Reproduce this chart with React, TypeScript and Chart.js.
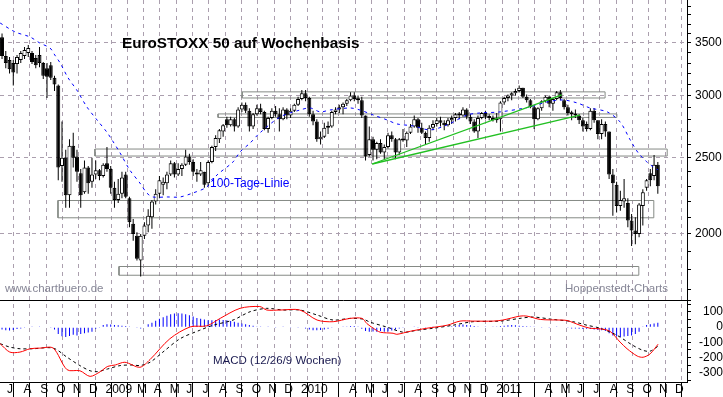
import { useEffect, useRef } from 'react';
import { Chart, registerables } from 'chart.js';

Chart.register(...registerables);

// Weekly candles, first candle = week starting Monday 2008-06-23
const FIRST_MONDAY = Date.UTC(2008, 5, 23);
const DAY_MS = 86400000;

const weekOpen = [
  3560, 3370, 3330, 3300, 3290, 3330, 3370, 3400, 3400, 3350,
  3380, 3300, 3250, 3280, 3160, 3090, 2440, 2500, 2240, 2590,
  2510, 2390, 2260, 2430, 2330, 2380, 2410, 2370, 2460, 2420,
  2290, 2210, 2250, 2380, 2220, 2060, 1990, 1850, 1990, 2050,
  2100, 2200, 2250, 2310, 2320, 2380, 2460, 2380, 2420, 2450,
  2510, 2470, 2390, 2380, 2400, 2320, 2470, 2580, 2640, 2700,
  2800, 2750, 2800, 2740, 2880, 2920, 2870, 2740, 2840, 2890,
  2860, 2720, 2810, 2870, 2840, 2800, 2880, 2830, 2870, 2920,
  2970, 3020, 2980, 2840, 2780, 2640, 2660, 2730, 2740, 2860,
  2880, 2900, 2930, 2960, 3000, 2970, 2960, 2830, 2520, 2640,
  2560, 2610, 2540, 2580, 2670, 2640, 2540, 2640, 2630, 2690,
  2740, 2800, 2730, 2690, 2650, 2730, 2760, 2790, 2770, 2750,
  2790, 2810, 2840, 2830, 2880, 2820, 2780, 2700, 2810, 2850,
  2820, 2810, 2790, 2800, 2940, 2980, 3000, 3020, 3040, 3070,
  2990, 2960, 2900, 2800, 2890, 2950, 2990, 2930, 2970, 3030,
  2960, 2900, 2850, 2840, 2830, 2790, 2760, 2720, 2870, 2790,
  2680, 2760, 2700, 2380, 2310, 2170, 2200, 2190, 2080, 2020,
  2000, 2170, 2290, 2390, 2370, 2450,
];
const weekHigh = [
  3600, 3420, 3360, 3330, 3380, 3420, 3460, 3480, 3420, 3380,
  3460, 3310, 3300, 3310, 3180, 3100, 2780, 2560, 2640, 2690,
  2560, 2420, 2480, 2440, 2500, 2480, 2420, 2460, 2580, 2440,
  2330, 2350, 2400, 2400, 2230, 2090, 2010, 2000, 2070, 2150,
  2210, 2280, 2370, 2360, 2400, 2480, 2470, 2460, 2460, 2560,
  2530, 2490, 2420, 2470, 2400, 2480, 2590, 2670, 2720, 2760,
  2820, 2820, 2810, 2900, 2940, 2940, 2890, 2850, 2920, 2930,
  2870, 2820, 2890, 2910, 2890, 2900, 2890, 2890, 2930, 2990,
  3050, 3050, 2990, 2870, 2800, 2700, 2770, 2780, 2870, 2900,
  2920, 2940, 2970, 3030, 3030, 3000, 2990, 2830, 2740, 2660,
  2620, 2640, 2600, 2690, 2700, 2650, 2650, 2720, 2700, 2760,
  2830, 2810, 2770, 2700, 2750, 2790, 2810, 2820, 2790, 2810,
  2830, 2850, 2860, 2900, 2890, 2840, 2800, 2830, 2860, 2870,
  2840, 2830, 2850, 2950, 2990, 3010, 3030, 3060, 3090, 3070,
  3010, 2970, 2910, 2900, 2960, 3000, 3000, 2980, 3040, 3050,
  2970, 2920, 2870, 2880, 2840, 2810, 2780, 2890, 2890, 2790,
  2800, 2780, 2700, 2420, 2330, 2270, 2350, 2220, 2120, 2100,
  2190, 2280, 2350, 2420, 2520, 2470,
];
const weekLow = [
  3340, 3250, 3200, 3090, 3200, 3300, 3340, 3360, 3290, 3250,
  3260, 3150, 2980, 3140, 3040, 2340, 2330, 2160, 2160, 2430,
  2330, 2160, 2250, 2250, 2290, 2350, 2340, 2360, 2400, 2250,
  2160, 2190, 2220, 2220, 2040, 1960, 1850, 1765, 1970, 2010,
  2030, 2180, 2220, 2240, 2280, 2370, 2360, 2370, 2370, 2440,
  2450, 2370, 2330, 2370, 2290, 2300, 2460, 2550, 2610, 2660,
  2730, 2740, 2700, 2730, 2860, 2850, 2700, 2720, 2830, 2840,
  2710, 2690, 2800, 2820, 2700, 2790, 2800, 2810, 2860, 2910,
  2960, 2950, 2820, 2750, 2620, 2600, 2650, 2680, 2730, 2840,
  2850, 2840, 2910, 2950, 2950, 2930, 2810, 2480, 2510, 2480,
  2490, 2530, 2490, 2570, 2620, 2490, 2520, 2620, 2580, 2680,
  2730, 2690, 2680, 2600, 2620, 2710, 2740, 2740, 2710, 2740,
  2760, 2780, 2800, 2820, 2800, 2760, 2690, 2650, 2800, 2800,
  2790, 2780, 2770, 2700, 2920, 2950, 2960, 3000, 3030, 2980,
  2940, 2890, 2720, 2790, 2870, 2940, 2900, 2870, 2960, 2960,
  2880, 2830, 2790, 2810, 2760, 2700, 2700, 2710, 2770, 2640,
  2640, 2660, 2350, 2110, 2130, 2140, 2160, 2040, 1930, 1940,
  1980, 2050, 2270, 2300, 2340, 2250,
];
const weekClose = [
  3370, 3300, 3240, 3210, 3360, 3400, 3430, 3450, 3310, 3280,
  3300, 3180, 3170, 3160, 3100, 2430, 2500, 2240, 2590, 2500,
  2400, 2240, 2430, 2320, 2380, 2410, 2370, 2450, 2420, 2290,
  2210, 2250, 2360, 2230, 2070, 2000, 1860, 1990, 2050, 2110,
  2200, 2250, 2340, 2330, 2380, 2460, 2380, 2420, 2450, 2510,
  2470, 2400, 2380, 2410, 2310, 2470, 2580, 2650, 2710, 2750,
  2750, 2800, 2740, 2880, 2920, 2870, 2740, 2840, 2890, 2860,
  2720, 2810, 2870, 2840, 2800, 2880, 2830, 2870, 2920, 2970,
  3020, 2980, 2840, 2780, 2640, 2660, 2730, 2740, 2860, 2880,
  2900, 2930, 2960, 3000, 2970, 2960, 2830, 2510, 2640, 2560,
  2610, 2540, 2580, 2670, 2640, 2540, 2640, 2630, 2690, 2740,
  2800, 2730, 2690, 2650, 2730, 2760, 2790, 2770, 2750, 2790,
  2810, 2840, 2830, 2880, 2820, 2780, 2700, 2810, 2850, 2820,
  2810, 2790, 2800, 2940, 2980, 3000, 3020, 3040, 3070, 2990,
  2960, 2900, 2800, 2890, 2950, 2990, 2930, 2970, 3030, 2980,
  2900, 2850, 2840, 2830, 2790, 2740, 2720, 2870, 2790, 2680,
  2760, 2700, 2380, 2320, 2170, 2210, 2220, 2080, 2020, 2000,
  2180, 2260, 2340, 2340, 2450, 2300,
];

// Month axis, July 2008 .. December 2011
const monthLabels = [
  'J', 'A', 'S', 'O', 'N', 'D',
  '2009', '', 'M', 'A', 'M', 'J', 'J', 'A', 'S', 'O', 'N', 'D',
  '2010', '', '', 'A', 'M', 'J', 'J', 'A', 'S', 'O', 'N', 'D',
  '2011', '', '', 'A', 'M', 'J', 'J', 'A', 'S', 'O', 'N', 'D',
];

// 100-Tage-Linie (days after 2008-06-23, index level)
const maDays = [
  -1, 27, 55, 73, 92, 101, 111, 126, 142, 161, 180, 198, 208, 223, 241, 260, 273, 284, 311, 335,
  359, 385, 404, 434, 447, 466, 484, 522, 559, 578, 597, 615, 653, 671, 696, 722, 740, 770, 802, 834,
  871, 895, 933, 989, 1020, 1050, 1077, 1101, 1133, 1157, 1176, 1191, 1207, 1219, 1228,
];
const maLevels = [
  3711, 3615, 3562, 3500, 3449, 3379, 3301, 3159, 3050, 2902, 2793, 2697, 2634, 2536, 2413, 2322, 2255, 2229, 2229, 2229,
  2255, 2295, 2377, 2470, 2543, 2611, 2689, 2818, 2876, 2893, 2860, 2876, 2893, 2876, 2834, 2793, 2761, 2745, 2713, 2753,
  2834, 2851, 2860, 2902, 2944, 2962, 2936, 2893, 2860, 2777, 2634, 2536, 2470, 2434, 2413,
];

// MACD (12/26/9) line and signal line (days after 2008-06-23, value)
const macdDays = [
  -1, 17, 36, 55, 73, 98, 124, 148, 167, 186, 200, 214, 232, 260, 279, 316, 354, 385, 410, 447,
  484, 497, 522, 559, 591, 621, 653, 675, 684, 696, 709, 733, 740, 765, 796, 834, 858, 882, 920, 938,
  970, 983, 1008, 1045, 1058, 1082, 1101, 1120, 1138, 1157, 1170, 1189, 1200, 1213, 1228,
];
const macdLevels = [
  -109, -164, -164, -142, -138, -138, -280, -287, -324, -293, -258, -249, -231, -264, -213, -76, 2, 9, 58, 124,
  136, 113, 113, 113, 47, 36, 58, 58, 24, -7, -33, -40, -47, -27, -7, 13, 40, 40, 40, 47,
  73, 73, 51, 47, 44, 13, -7, -11, -27, -98, -142, -190, -198, -176, -112,
];
const signalDays = [
  -1, 17, 36, 60, 98, 124, 148, 167, 180, 199, 223, 247, 260, 279, 303, 335, 372, 397, 434, 466,
  497, 527, 559, 591, 621, 653, 677, 690, 722, 752, 778, 808, 845, 882, 933, 970, 994, 1032, 1069, 1095,
  1120, 1151, 1181, 1200, 1213, 1228,
];
const signalLevels = [
  -109, -131, -142, -142, -138, -198, -253, -287, -293, -276, -253, -249, -253, -231, -164, -76, -20, 13, 47, 102,
  124, 113, 113, 80, 47, 58, 53, 33, 0, -33, -20, -7, 13, 36, 40, 58, 67, 51, 36, 13,
  -7, -53, -120, -153, -158, -125,
];
// MACD histogram, one bar per week
const histLevels = [
  -15, -20, -22, -18, -12, -8, -5, -3, 4, 3, 2, 3, -3, -5, -15,
  -45, -60, -65, -58, -50, -55, -45, -40, -35, -30, -10, -5,
  15, 20, 18, 15, 12, 10, 8, 5, 3, -5, -8, 0,
  20, 30, 42, 55, 65, 75, 85, 90, 92, 90, 85, 78, 70, 60, 55,
  50, 45, 45, 48, 50, 48, 45, 40, 35, 30, 25, 20, 15, 10, 5, 5, 3, 2,
  0, -2, 0, 2, 0, -2, -3, -5, -3, -8,
  -15, -20, -20, -18, -15, -10, -5,
  0, 3, 5, 5, 8, 8, 4,
  -10, -25, -30, -28, -30, -25, -30, -28, -22, -15,
  -8, -5, 0, 3, 2, -2, -3, -2, 0, 2, 3, 5, 4, 5, 6,
  10, 15, 18, 15, 12, 8,
  5, 3, 2, 3, 2, 5, 8,
  10, 12, 14, 12, 10, 8, 6,
  4, 2, 0, -2, -3, -2, 0, 2, 3, 0,
  -5, -8, -8, -10, -12, -10, -12,
  -15, -18, -20, -25,
  -40, -55, -60, -65, -62, -58, -55, -45, -30,
  5, 15, 20, 25, 30,
];

// grey support / resistance zones (days after 2008-06-23, levels)
const zoneStart = [451, 406, 176, 107, 221];
const zoneEnd = [1129, 1151, 1245, 1220, 1192];
const zoneLow = [2979, 2814, 2513, 2097, 1772];
const zoneHigh = [3033, 2843, 2565, 2206, 1818];

// green trend lines
const trendStartDay = [694, 694];
const trendEndDay = [1048, 1082];
const trendStartLevel = [2455, 2455];
const trendEndLevel = [3006, 2834];

const priceTicks = [1700, 1800, 1900, 2000, 2100, 2200, 2300, 2400, 2500, 2600, 2700, 2800, 2900, 3000, 3100, 3200, 3300, 3400, 3500, 3600, 3700, 3800, 3900];
const macdTicks = [-350, -300, -250, -200, -150, -100, -50, 0, 50, 100, 150];

const X_MIN = -1.3;
const X_MAX = 1282;
const P_MIN = 1648;
const P_MAX = 3970;
const M_MIN = -361;
const M_MAX = 179;

const FONT = '"Liberation Sans", Arial, Helvetica, sans-serif';
const GRID = '#ab9fae';

const textPlugin = {
  id: 'chartTexts',
  afterDatasetsDraw(chart: any) {
    const ctx = chart.ctx as CanvasRenderingContext2D;
    ctx.save();
    ctx.textBaseline = 'alphabetic';
    ctx.textAlign = 'left';
    ctx.fillStyle = '#000';
    ctx.font = `bold 15.3px ${FONT}`;
    ctx.fillText('EuroSTOXX 50 auf Wochenbasis', 122, 48);
    ctx.fillStyle = '#0000ff';
    ctx.font = `12px ${FONT}`;
    ctx.fillText('100-Tage-Linie', 210, 187);
    ctx.fillStyle = '#868696';
    ctx.font = `11.5px ${FONT}`;
    ctx.fillText('www.chartbuero.de', 5, 292);
    ctx.fillText('Hoppenstedt-Charts', 565, 292);
    ctx.fillStyle = '#1a1a50';
    ctx.fillText('MACD (12/26/9 Wochen)', 213, 364);
    ctx.restore();
  },
};

export default function App() {
  const ref = useRef<HTMLCanvasElement>(null);

  useEffect(() => {
    const canvas = ref.current;
    if (!canvas) return;
    const weekX = (k: number) => 7 * k + 2.5;
    const monthTicks = monthLabels.map((_, i) => (Date.UTC(2008, 6 + i, 1) - FIRST_MONDAY) / DAY_MS);

    const datasets: any[] = [];

    zoneStart.forEach((s, i) => {
      const e = zoneEnd[i];
      const lo = zoneLow[i];
      const hi = zoneHigh[i];
      datasets.push({
        type: 'line',
        yAxisID: 'y',
        data: [
          { x: s, y: lo }, { x: e, y: lo }, { x: e, y: hi }, { x: s, y: hi }, { x: s, y: lo },
        ],
        borderColor: '#858a85',
        borderWidth: 1,
        pointRadius: 0,
        fill: false,
        tension: 0,
        order: 20,
      });
    });

    datasets.push({
      type: 'bar',
      yAxisID: 'y',
      data: weekLow.map((l, k) => ({ x: weekX(k), y: [l, weekHigh[k]] })),
      backgroundColor: '#000',
      borderWidth: 0,
      barThickness: 1,
      grouped: false,
      inflateAmount: 0,
      order: 12,
    });

    datasets.push({
      type: 'bar',
      yAxisID: 'y',
      data: weekOpen.map((o, k) => ({ x: weekX(k), y: [o, weekClose[k]] })),
      backgroundColor: weekOpen.map((o, k) => (weekClose[k] >= o ? '#ffffff' : '#000000')),
      borderColor: '#000',
      borderWidth: 1,
      borderSkipped: false,
      barThickness: 4,
      minBarLength: 2,
      grouped: false,
      inflateAmount: 0,
      order: 11,
    });

    datasets.push({
      type: 'line',
      yAxisID: 'y',
      data: maDays.map((d, i) => ({ x: d, y: maLevels[i] })),
      borderColor: '#0000ff',
      borderWidth: 1,
      borderDash: [3, 4],
      pointRadius: 0,
      tension: 0.3,
      order: 6,
    });

    trendStartDay.forEach((s, i) => {
      datasets.push({
        type: 'line',
        yAxisID: 'y',
        data: [{ x: s, y: trendStartLevel[i] }, { x: trendEndDay[i], y: trendEndLevel[i] }],
        borderColor: '#22c022',
        borderWidth: 1.3,
        pointRadius: 0,
        order: 5,
      });
    });

    datasets.push({
      type: 'bar',
      yAxisID: 'y2',
      data: histLevels.map((v, k) => ({ x: weekX(k), y: v })),
      backgroundColor: '#0000ff',
      borderWidth: 0,
      barThickness: 1,
      grouped: false,
      inflateAmount: 0,
      order: 10,
    });

    datasets.push({
      type: 'line',
      yAxisID: 'y2',
      data: signalDays.map((d, i) => ({ x: d, y: signalLevels[i] })),
      borderColor: '#000',
      borderWidth: 1,
      borderDash: [3, 3],
      pointRadius: 0,
      tension: 0.3,
      order: 4,
    });

    datasets.push({
      type: 'line',
      yAxisID: 'y2',
      data: macdDays.map((d, i) => ({ x: d, y: macdLevels[i] })),
      borderColor: '#ff0000',
      borderWidth: 1,
      pointRadius: 0,
      tension: 0.3,
      order: 3,
    });

    const zeroPad = (s: any) => {
      s.paddingTop = 0;
      s.paddingBottom = 0;
      s.paddingLeft = 0;
      s.paddingRight = 0;
    };

    const chart = new Chart(canvas, {
      type: 'line',
      data: { datasets },
      plugins: [textPlugin],
      options: {
        animation: false,
        responsive: false,
        maintainAspectRatio: false,
        devicePixelRatio: 1,
        events: [],
        layout: { padding: 0 },
        font: { family: FONT },
        plugins: {
          legend: { display: false },
          tooltip: { enabled: false },
          title: { display: false },
        },
        scales: {
          x: {
            type: 'linear',
            position: 'bottom',
            min: X_MIN,
            max: X_MAX,
            offset: false,
            afterBuildTicks: (s: any) => {
              s.ticks = monthTicks.map((v) => ({ value: v }));
            },
            afterFit: (s: any) => {
              s.height = 15;
              zeroPad(s);
            },
            ticks: {
              autoSkip: false,
              maxRotation: 0,
              minRotation: 0,
              align: 'start',
              padding: -15,
              labelOffset: 2,
              color: '#000',
              font: { family: FONT, size: 12 },
              callback: (_v: any, i: number) => monthLabels[i],
            },
            grid: {
              color: GRID,
              tickColor: '#000',
              tickLength: 15,
              lineWidth: 1,
            },
            border: { color: '#000', width: 1, dash: [4, 4] },
          },
          y: {
            type: 'logarithmic',
            position: 'right',
            stack: 'panels',
            stackWeight: 300,
            min: P_MIN,
            max: P_MAX,
            afterBuildTicks: (s: any) => {
              s.ticks = priceTicks.map((v) => ({ value: v }));
            },
            afterFit: (s: any) => {
              s.width = 36;
              zeroPad(s);
            },
            ticks: {
              autoSkip: false,
              padding: 4,
              crossAlign: 'near',
              color: '#000',
              font: { family: FONT, size: 12 },
              callback: (v: any) => (Number(v) % 500 === 0 ? String(v) : ''),
            },
            grid: {
              color: (c: any) => (c.tick && c.tick.value % 500 === 0 ? GRID : 'rgba(0,0,0,0)'),
              tickColor: '#000',
              tickLength: 4,
            },
            border: { color: '#000', width: 1, dash: [4, 4] },
          },
          y2: {
            type: 'linear',
            position: 'right',
            stack: 'panels',
            stackWeight: 82,
            min: M_MIN,
            max: M_MAX,
            afterBuildTicks: (s: any) => {
              s.ticks = [...macdTicks, M_MAX].map((v) => ({ value: v }));
            },
            afterFit: (s: any) => {
              s.width = 36;
              zeroPad(s);
            },
            ticks: {
              autoSkip: false,
              padding: 4,
              crossAlign: 'far',
              color: '#000',
              font: { family: FONT, size: 12 },
              callback: (v: any) => {
                const n = Number(v);
                return n % 100 === 0 && n >= -300 && n <= 100 ? String(n) : '';
              },
            },
            grid: {
              color: (c: any) => (c.tick && c.tick.value === M_MAX ? '#000' : 'rgba(0,0,0,0)'),
              tickColor: '#000',
              tickLength: 4,
            },
            border: { color: '#000', width: 1 },
          },
        },
      } as any,
    });

    return () => chart.destroy();
  }, []);

  return (
    <div style={{ position: 'absolute', left: 0, top: 0, width: 723, height: 397, background: '#fff' }}>
      <canvas ref={ref} width={723} height={397} style={{ display: 'block', width: 723, height: 397 }} />
    </div>
  );
}
